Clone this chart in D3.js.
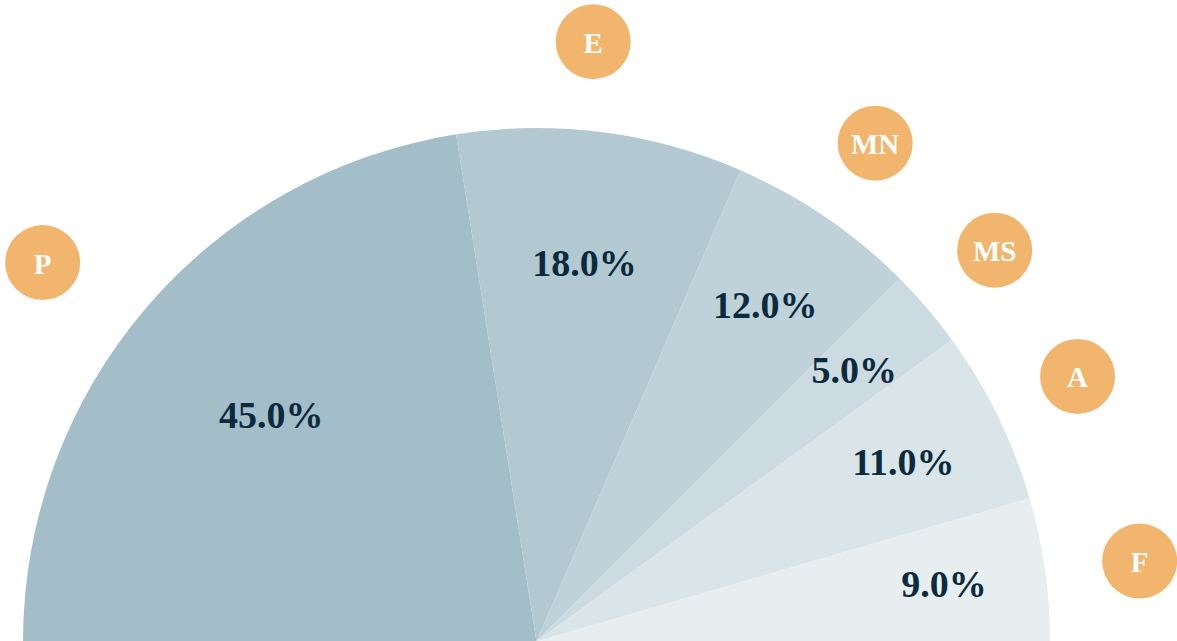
<!DOCTYPE html>
<html lang="en">
<head>
    <meta charset="UTF-8">
    <title>Half pie</title>
    <script src="https://d3js.org/d3.v7.min.js"></script>
    <style>
        body { margin: 0; background: #fff; }
        svg { display: block; }
    </style>
</head>
<body>
    <div id="chart"></div>
    <script>
        // Data
        const categories = ["P", "E", "MN", "MS", "A", "F"];
        const shares = [45.0, 18.0, 12.0, 5.0, 11.0, 9.0];
        const sliceColors = ["#a3bec9", "#b2c9d1", "#bfd2d9", "#ccdbe1", "#d9e5e9", "#e6eef0"];

        const width = 1177, height = 641;
        const cx = 536.5, cy = 641.5;
        const radius = 513.5;

        const svg = d3.select("#chart")
            .append("svg")
            .attr("width", width)
            .attr("height", height);

        const g = svg.append("g")
            .attr("transform", `translate(${cx},${cy})`);

        const data = categories.map((c, i) => ({name: c, value: shares[i], color: sliceColors[i]}));

        const pie = d3.pie()
            .sort(null)
            .value(d => d.value)
            .startAngle(-Math.PI / 2)
            .endAngle(Math.PI / 2);

        const arcs = pie(data);

        const arc = d3.arc()
            .innerRadius(0)
            .outerRadius(radius);

        const midAngle = d => (d.startAngle + d.endAngle) / 2;

        // slices
        g.selectAll("path.slice")
            .data(arcs)
            .join("path")
            .attr("class", "slice")
            .attr("d", arc)
            .attr("fill", d => d.data.color);

        // percentage labels: wide slices get their label pulled inward
        const labelRadius = d3.scaleLinear()
            .domain([5, 12, 18, 45])
            .range([418, 407, 382, 349])
            .clamp(true);

        g.selectAll("text.pct")
            .data(arcs)
            .join("text")
            .attr("class", "pct")
            .attr("x", d => Math.sin(midAngle(d)) * labelRadius(d.data.value))
            .attr("y", d => -Math.cos(midAngle(d)) * labelRadius(d.data.value))
            .attr("text-anchor", "middle")
            .attr("dominant-baseline", "central")
            .attr("font-family", "'Liberation Serif', 'DejaVu Serif', serif")
            .attr("font-weight", "bold")
            .attr("font-size", "38px")
            .attr("fill", "#0b2a3e")
            .text(d => d.data.value.toFixed(1) + "%");

        // category badges outside the arc (small nudges keep them clear of each other)
        const badgeRadius = radius + 89;
        const badgeNudge = {P: {da: -3, dr: 20}, E: {da: -1.8, dr: 0}, F: {da: 0.5, dr: 6}};
        const badgePos = d => {
            const n = badgeNudge[d.data.name] || {da: 0, dr: 0};
            const a = midAngle(d) + n.da * Math.PI / 180;
            const r = badgeRadius + n.dr;
            return [Math.sin(a) * r, -Math.cos(a) * r];
        };

        const badges = g.selectAll("g.badge")
            .data(arcs)
            .join("g")
            .attr("class", "badge")
            .attr("transform", d => `translate(${badgePos(d)})`);

        badges.append("circle")
            .attr("r", 37.5)
            .attr("fill", "#f2b56d");

        badges.append("text")
            .attr("text-anchor", "middle")
            .attr("dominant-baseline", "central")
            .attr("dy", "1px")
            .attr("font-family", "'Liberation Serif', 'DejaVu Serif', serif")
            .attr("font-weight", "bold")
            .attr("font-size", "29px")
            .attr("fill", "#ffffff")
            .text(d => d.data.name);
    </script>
</body>
</html>
